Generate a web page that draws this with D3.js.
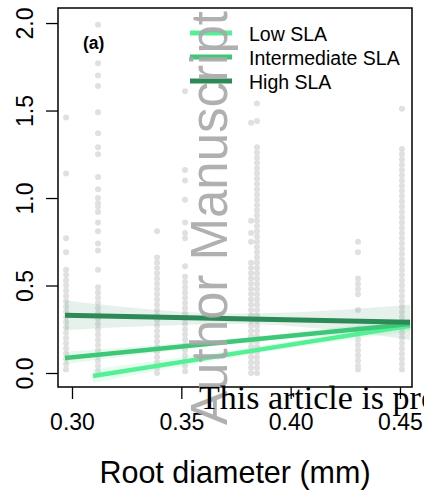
<!DOCTYPE html>
<html>
<head>
<meta charset="utf-8">
<script src="https://cdn.jsdelivr.net/npm/d3@7"></script>
<style>
  body { margin: 0; background: #fff; }
  svg { display: block; font-family: "Liberation Sans", Arial, sans-serif; }
</style>
</head>
<body>
<svg id="chart"></svg>
<script>
// observed root diameters (columns of points)
const rootDiam = [0.2973, 0.3119, 0.3389, 0.3517, 0.3819, 0.3846, 0.4308, 0.4509];

// survival values per column
const col1 = [1.46, 1.14, 0.77, 0.69, 0.59, 0.56, 0.53, 0.50, 0.47, 0.44, 0.41, 0.38, 0.35, 0.32, 0.29, 0.26, 0.23, 0.20, 0.17, 0.14, 0.11, 0.08, 0.05, 0.02];
const col2 = [1.99, 1.77, 1.70, 1.64, 1.49, 1.37, 1.29, 1.25, 1.12, 1.05, 1.00, 0.97, 0.95, 0.92, 0.86, 0.81, 0.74, 0.70, 0.59, 0.49, 0.46, 0.43, 0.40, 0.37, 0.34, 0.31, 0.28, 0.25, 0.22, 0.19, 0.16, 0.13, 0.10, 0.07, 0.04, 0.01];
const col3 = [0.81, 0.66, 0.63, 0.60, 0.57, 0.54, 0.51, 0.48, 0.45, 0.42, 0.39, 0.36, 0.33, 0.30, 0.27, 0.24, 0.21, 0.18, 0.15, 0.12, 0.09, 0.06, 0.03, 0.00];
const col4 = [1.61, 1.16, 1.10, 0.99, 0.86, 0.80, 0.77, 0.61, 0.55, 0.52, 0.49, 0.46, 0.43, 0.40, 0.37, 0.34, 0.31, 0.28, 0.25, 0.22, 0.19, 0.16, 0.13, 0.10, 0.07, 0.04, 0.01];
const col5 = [1.43, 0.87, 0.80, 0.75, 0.63, 0.60, 0.57, 0.54, 0.51, 0.48, 0.45, 0.42, 0.39, 0.36, 0.33, 0.30, 0.27, 0.24, 0.21, 0.18, 0.15, 0.12, 0.09, 0.06, 0.03, 0.00];
const col6 = [1.54, 1.44, 1.29, 1.26, 1.23, 1.20, 1.17, 1.14, 1.11, 1.08, 1.05, 1.02, 0.99, 0.96, 0.93, 0.90, 0.87, 0.84, 0.81, 0.78, 0.75, 0.72, 0.69, 0.66, 0.63, 0.60, 0.57, 0.54, 0.51, 0.48, 0.45, 0.42, 0.39, 0.36, 0.33, 0.30, 0.27, 0.24, 0.21, 0.18, 0.15, 0.12, 0.09, 0.06, 0.03, 0.00];
const col7 = [0.75, 0.69, 0.54, 0.51, 0.48, 0.45, 0.36, 0.25, 0.22, 0.19, 0.16, 0.13, 0.10, 0.07, 0.04, 0.02];
const col8 = [1.51, 1.28, 1.25, 1.22, 1.19, 1.16, 1.13, 1.10, 1.07, 1.04, 1.01, 0.98, 0.95, 0.92, 0.89, 0.86, 0.83, 0.80, 0.77, 0.74, 0.71, 0.68, 0.65, 0.62, 0.59, 0.56, 0.53, 0.50, 0.47, 0.44, 0.41, 0.38, 0.35, 0.32, 0.29, 0.26, 0.23, 0.20, 0.17, 0.14, 0.11, 0.08, 0.05, 0.02];

// fitted lines per SLA group
const groups = ['Low SLA', 'Intermediate SLA', 'High SLA'];
const fitX0 = [0.3096, 0.2968, 0.2968];
const fitX1 = [0.4546, 0.4546, 0.4546];
const fitY0 = [-0.017, 0.086, 0.33];
const fitY1 = [0.27, 0.28, 0.29];
const ciStart = [0.04, 0.035, 0.085];
const ciMid = [0.02, 0.015, 0.03];
const ciEnd = [0.03, 0.03, 0.1];

const xTicks = [0.30, 0.35, 0.40, 0.45];
const yTicks = [0.0, 0.5, 1.0, 1.5, 2.0];

const colors = ['#55ef96', '#3cc877', '#2b8a55'];
const bandColors = ['rgba(85,239,150,0.14)', 'rgba(60,200,119,0.12)', 'rgba(43,138,85,0.12)'];

const width = 424, height = 490;
const margin = { top: 8, right: 12, bottom: 103, left: 58 };

const svg = d3.select('#chart').attr('width', width).attr('height', height);
const chart = svg.append('g').attr('transform', `translate(${margin.left}, ${margin.top})`);
const innerW = width - margin.left - margin.right;
const innerH = height - margin.top - margin.bottom;

const xscale = d3.scaleLinear().domain([0.2936, 0.4555]).range([0, innerW]);
const yscale = d3.scaleLinear().domain([-0.08, 2.086]).range([innerH, 0]);

// points
const points = [];
[col1, col2, col3, col4, col5, col6, col7, col8].forEach((vals, i) => {
    vals.forEach(v => points.push({ x: rootDiam[i], y: v }));
});
chart.append('g').selectAll('circle')
    .data(points)
    .join('circle')
    .attr('cx', d => xscale(d.x))
    .attr('cy', d => yscale(d.y))
    .attr('r', 3)
    .attr('fill', '#e0e0e0');

// fits with confidence ribbons
const fits = groups.map((g, i) => {
    const xm = (fitX0[i] + fitX1[i]) / 2, ym = (fitY0[i] + fitY1[i]) / 2;
    return {
        name: g,
        pts: [
            { x: fitX0[i], y: fitY0[i], se: ciStart[i] },
            { x: xm, y: ym, se: ciMid[i] },
            { x: fitX1[i], y: fitY1[i], se: ciEnd[i] }
        ]
    };
});

const area = d3.area().curve(d3.curveMonotoneX)
    .x(d => xscale(d.x))
    .y0(d => yscale(d.y - d.se))
    .y1(d => yscale(d.y + d.se));
const line = d3.line().x(d => xscale(d.x)).y(d => yscale(d.y));

chart.append('g').selectAll('path')
    .data(fits)
    .join('path')
    .attr('d', d => area(d.pts))
    .attr('fill', (d, i) => bandColors[i]);

chart.append('g').selectAll('path')
    .data(fits)
    .join('path')
    .attr('d', d => line(d.pts))
    .attr('fill', 'none')
    .attr('stroke', (d, i) => colors[i])
    .attr('stroke-width', (d, i) => i === 2 ? 5 : 4.5);

// axes
const xaxis = d3.axisBottom(xscale).tickValues(xTicks).tickSize(12).tickFormat(d3.format('.2f'));
const yaxis = d3.axisLeft(yscale).tickValues(yTicks).tickSize(12).tickFormat(d3.format('.1f'));

const gx = chart.append('g').attr('transform', `translate(0, ${innerH})`).call(xaxis);
gx.select('.domain').remove();
gx.selectAll('line').attr('stroke', '#000').attr('stroke-width', 1.3);
gx.selectAll('text').attr('y', 43).attr('dy', 0)
    .attr('font-size', 23).attr('fill', '#000').attr('font-family', null);

const gy = chart.append('g').call(yaxis);
gy.select('.domain').remove();
gy.selectAll('line').attr('stroke', '#000').attr('stroke-width', 1.3);
gy.selectAll('text')
    .attr('transform', 'rotate(-90)')
    .attr('x', 0).attr('y', -25).attr('dy', 0)
    .attr('text-anchor', 'middle')
    .attr('font-size', 23).attr('fill', '#000').attr('font-family', null);

chart.append('rect')
    .attr('width', innerW).attr('height', innerH)
    .attr('fill', 'none').attr('stroke', '#000').attr('stroke-width', 1.5);

// panel tag
svg.append('text')
    .attr('x', 83).attr('y', 49)
    .attr('font-size', 17.5).attr('font-weight', 'bold')
    .text('(a)');

// legend
const legend = svg.append('g').attr('transform', 'translate(190, 33)');
groups.forEach((g, i) => {
    const row = legend.append('g').attr('transform', `translate(0, ${i * 24})`);
    row.append('line').attr('x1', 0).attr('x2', 42)
        .attr('stroke', colors[i]).attr('stroke-width', 5);
    row.append('text').attr('x', 59).attr('y', 8)
        .attr('font-size', 19.5).text(g);
});

// axis title
svg.append('text')
    .attr('x', 235).attr('y', 483)
    .attr('text-anchor', 'middle')
    .attr('font-size', 30.5)
    .text('Root diameter (mm)');

// manuscript watermark
svg.append('text')
    .attr('transform', 'translate(227, 218) rotate(-90)')
    .attr('text-anchor', 'middle')
    .attr('font-size', 51)
    .attr('fill', '#a8a8a8')
    .attr('opacity', 0.9)
    .text('Author Manuscript');

svg.append('text')
    .attr('x', 199).attr('y', 409)
    .attr('font-family', '"Liberation Serif", serif')
    .attr('font-size', 34)
    .text('This article is protected by copyright. All rights reserved');
</script>
</body>
</html>
